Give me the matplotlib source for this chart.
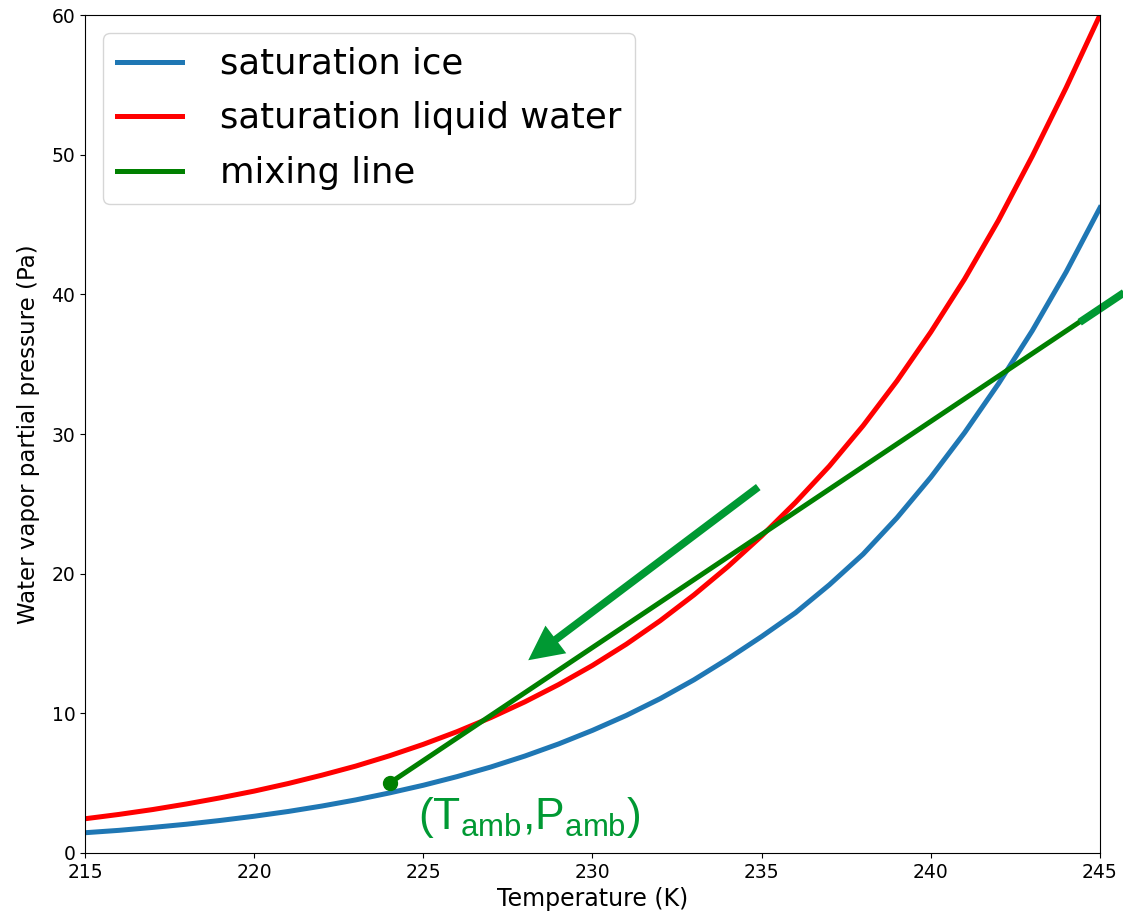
import numpy as np
import matplotlib
matplotlib.use("Agg")
import matplotlib.pyplot as plt

# temperatures (K) and vapor pressures (Pa)
temperature = np.arange(215, 246)
p_ice = [1.45, 1.62, 1.83, 2.06, 2.33, 2.63, 2.97, 3.36, 3.80, 4.30, 4.85,
         5.47, 6.16, 6.94, 7.81, 8.78, 9.85, 11.05, 12.40, 13.90, 15.50,
         17.20, 19.20, 21.40, 24.00, 26.90, 30.10, 33.60, 37.40, 41.60, 46.20]
p_liquid = [2.45, 2.76, 3.11, 3.51, 3.95, 4.43, 4.97, 5.57, 6.22, 6.96, 7.78,
            8.69, 9.70, 10.82, 12.06, 13.43, 14.95, 16.63, 18.48, 20.50, 22.70,
            25.10, 27.70, 30.60, 33.80, 37.30, 41.10, 45.30, 49.90, 54.80, 60.00]

mix_T = [224, 245]
mix_P = [5.0, 39.0]

arrow_start = (234.9, 26.2)
arrow_end = (228.1, 13.8)
stub_T = [244.4, 246.5]
stub_P = [38.0, 41.4]

fig = plt.figure(figsize=(11.23, 9.16), dpi=100)
ax = fig.add_axes([0.0757, 0.0688, 0.9038, 0.9148])

ax.plot(temperature, p_ice, color="#1f77b4", lw=3.6, label="saturation ice")
ax.plot(temperature, p_liquid, color="red", lw=3.6, label="saturation liquid water")
ax.plot(mix_T, mix_P, color="green", lw=3.6, label="mixing line")
ax.plot(mix_T[0], mix_P[0], "o", color="green", ms=10)

# bright green annotations
ax.plot(stub_T, stub_P, color="#009933", lw=5.5, solid_capstyle="butt", clip_on=False)
ax.annotate("", xy=arrow_end, xytext=arrow_start,
            arrowprops=dict(arrowstyle="-|>", lw=5.5, color="#009933",
                            mutation_scale=40, shrinkA=0, shrinkB=0,
                            capstyle="butt", joinstyle="miter"))
ax.text(224.84, 1.7, r"(T$_\mathregular{amb}$,P$_\mathregular{amb}$)",
        color="#009933", fontsize=32, family="Liberation Sans", va="baseline")

ax.set_xlim(215, 245)
ax.set_ylim(0, 60)
ax.tick_params(labelsize=13.5)
ax.set_xlabel("Temperature (K)", fontsize=17)
ax.set_ylabel("Water vapor partial pressure (Pa)", fontsize=16.5, labelpad=8)

ax.legend(loc="upper left", fontsize=25.5, handlelength=1.85, handletextpad=1.05,
          borderaxespad=0.5, borderpad=0.4, labelspacing=0.58)

plt.savefig("out.png", dpi=100)
